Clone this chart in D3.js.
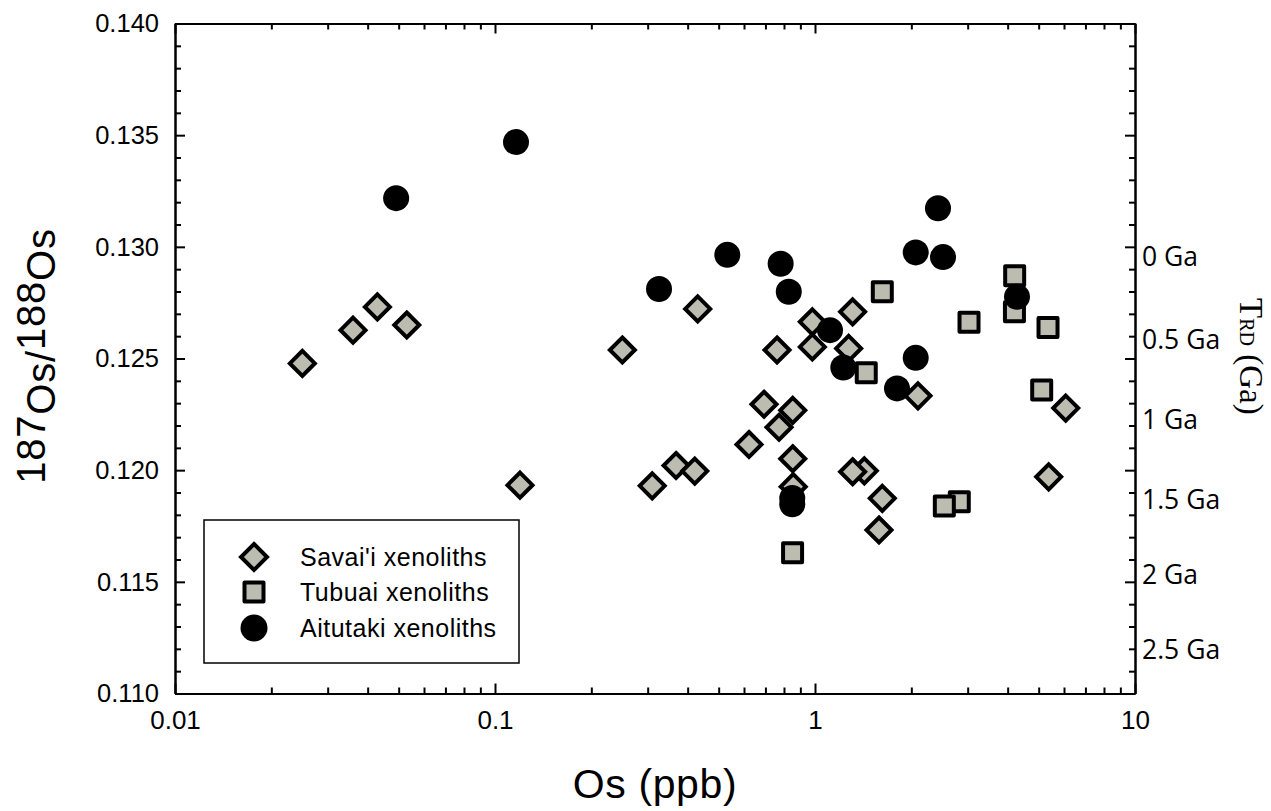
<!DOCTYPE html>
<html>
<head>
<meta charset="utf-8">
<script src="https://cdn.jsdelivr.net/npm/d3@7/dist/d3.min.js"></script>
<style>
  html, body { margin: 0; padding: 0; background: #fff; }
  svg { display: block; }
  .tick text { fill: #000; }
</style>
</head>
<body>
<svg id="chart" width="1271" height="811"></svg>
<script>
// Os concentration (ppb) and 187Os/188Os for each xenolith suite
const savaiiOs    = [0.025, 0.036, 0.0429, 0.053, 0.1197, 0.250, 0.430, 0.310, 0.368, 0.421,
                     0.622, 0.693, 0.852, 0.772, 0.852, 0.855, 0.761, 0.981, 0.981, 1.311,
                     1.274, 2.098, 6.074, 5.374, 1.426, 1.311, 1.623, 1.585];
const savaiiRatio = [0.12478, 0.12627, 0.12731, 0.12650, 0.11933, 0.12538, 0.12722, 0.11930, 0.12021, 0.11996,
                     0.12115, 0.12295, 0.12268, 0.12192, 0.12051, 0.11926, 0.12538, 0.12664, 0.12552, 0.12709,
                     0.12545, 0.12333, 0.12278, 0.11970, 0.11997, 0.11993, 0.11874, 0.11732];

const tubuaiOs    = [1.623, 4.207, 4.20, 3.029, 5.348, 1.446, 5.110, 2.824, 2.536, 0.851];
const tubuaiRatio = [0.12799, 0.12870, 0.12709, 0.12662, 0.12639, 0.12436, 0.12359, 0.11859, 0.11839, 0.11630];

const aitutakiOs    = [0.0491, 0.1163, 0.3255, 0.532, 0.781, 0.828, 1.114, 1.226, 2.064, 2.512,
                       2.064, 1.804, 2.423, 4.278, 0.849, 0.849];
const aitutakiRatio = [0.13218, 0.13469, 0.12811, 0.12964, 0.12924, 0.12799, 0.12627, 0.12460, 0.12975, 0.12954,
                       0.12503, 0.12366, 0.13173, 0.12776, 0.11875, 0.11847];

// Axis ticks
const xMajorTicks = [0.01, 0.1, 1, 10];
const xTickLabels = ["0.01", "0.1", "1", "10"];
const yMajorTicks = [0.110, 0.115, 0.120, 0.125, 0.130, 0.135, 0.140];
const yTickLabels = ["0.110", "0.115", "0.120", "0.125", "0.130", "0.135", "0.140"];

// Rhenium-depletion model ages and the 187Os/188Os they correspond to
const trdLabels = ["0 Ga", "0.5 Ga", "1 Ga", "1.5 Ga", "2 Ga", "2.5 Ga"];
const trdRatio  = [0.12955, 0.12587, 0.12229, 0.11871, 0.11535, 0.11199];

const seriesNames = ["Savai'i xenoliths", "Tubuai xenoliths", "Aitutaki xenoliths"];

// ---------------------------------------------------------------
const svg = d3.select("#chart");
const plotLeft = 175, plotRight = 1135, plotTop = 23.5, plotBottom = 693.5;
const grayFill = "#bcbdb0";
const sansFont = "'Liberation Sans', Arial, Helvetica, sans-serif";

const x = d3.scaleLog().domain([0.01, 10]).range([plotLeft, plotRight]);
const y = d3.scaleLinear().domain([0.110, 0.140]).range([plotBottom, plotTop]);

// minor tick values
const xMinor = [];
[0.01, 0.1, 1].forEach(d => { for (let k = 2; k <= 9; k++) xMinor.push(d * k); });
const yMinor = d3.range(110, 141).map(v => v / 1000).filter(v => !yMajorTicks.some(m => Math.abs(m - v) < 1e-9));

function styleAxis(g) {
  g.selectAll("path.domain").attr("stroke", "#000").attr("stroke-width", 2);
  g.selectAll(".tick line").attr("stroke", "#000").attr("stroke-width", 2);
}

// bottom axis
const gxB = svg.append("g").attr("transform", `translate(0,${plotBottom})`);
gxB.append("g").call(d3.axisBottom(x).tickValues(xMinor).tickFormat("").tickSize(-6).tickSizeOuter(0)).call(styleAxis);
gxB.append("g").call(d3.axisBottom(x).tickValues(xMajorTicks)
    .tickFormat((d, i) => xTickLabels[i]).tickSize(-10).tickSizeOuter(0).tickPadding(17))
  .call(styleAxis)
  .call(g => g.selectAll("text").attr("font-family", sansFont).attr("font-size", 26));

// top axis
const gxT = svg.append("g").attr("transform", `translate(0,${plotTop})`);
gxT.append("g").call(d3.axisTop(x).tickValues(xMinor).tickFormat("").tickSize(-6).tickSizeOuter(0)).call(styleAxis);
gxT.append("g").call(d3.axisTop(x).tickValues(xMajorTicks).tickFormat("").tickSize(-10).tickSizeOuter(0)).call(styleAxis);

// left axis
const gyL = svg.append("g").attr("transform", `translate(${plotLeft},0)`);
gyL.append("g").call(d3.axisLeft(y).tickValues(yMinor).tickFormat("").tickSize(-6).tickSizeOuter(0)).call(styleAxis);
gyL.append("g").call(d3.axisLeft(y).tickValues(yMajorTicks)
    .tickFormat((d, i) => yTickLabels[i]).tickSize(-10).tickSizeOuter(0).tickPadding(16))
  .call(styleAxis)
  .call(g => g.selectAll("text").attr("font-family", sansFont).attr("font-size", 25.5));

// right axis (model ages)
const gyR = svg.append("g").attr("transform", `translate(${plotRight},0)`);
gyR.append("g").call(d3.axisRight(y).tickValues(yMinor).tickFormat("").tickSize(-6).tickSizeOuter(0)).call(styleAxis);
gyR.append("g").call(d3.axisRight(y).tickValues(yMajorTicks).tickFormat("").tickSize(-10).tickSizeOuter(0)).call(styleAxis);

svg.append("g").selectAll("text").data(trdLabels).join("text")
  .attr("x", plotRight + 7)
  .attr("y", (d, i) => y(trdRatio[i]))
  .attr("dy", "0.36em")
  .attr("font-family", "'Open Sans', 'Noto Sans', sans-serif")
  .attr("font-size", 26.5)
  .attr("fill", "#000")
  .text(d => d);

// axis titles
svg.append("text")
  .attr("x", 655).attr("y", 798)
  .attr("text-anchor", "middle")
  .attr("font-family", sansFont).attr("font-size", 41)
  .attr("letter-spacing", 0.6)
  .attr("fill", "#000")
  .text("Os (ppb)");

const yTitle = svg.append("text")
  .attr("transform", "translate(45,356) rotate(-90)")
  .attr("text-anchor", "middle")
  .attr("font-family", sansFont).attr("font-size", 40)
  .attr("letter-spacing", 0.8)
  .attr("fill", "#000");
yTitle.append("tspan").text("187");
yTitle.append("tspan").attr("dy", 10).text("Os/");
yTitle.append("tspan").attr("dy", -10).text("188");
yTitle.append("tspan").attr("dy", 10).text("Os");

const trdTitle = svg.append("text")
  .attr("transform", "translate(1240,298) rotate(90)")
  .attr("font-family", "'Liberation Serif', 'Times New Roman', serif")
  .attr("font-size", 33)
  .attr("fill", "#000");
trdTitle.append("tspan").text("T");
trdTitle.append("tspan").attr("font-size", 20).text("RD");
trdTitle.append("tspan").text(" (Ga)");

// marker shapes
const diamond = s => `M0,${-s}L${s},0L0,${s}L${-s},0Z`;
const square = s => `M${-s},${-s}H${s}V${s}H${-s}Z`;

const plot = svg.append("g");

plot.append("g").selectAll("path").data(d3.zip(savaiiOs, savaiiRatio)).join("path")
  .attr("transform", d => `translate(${x(d[0])},${y(d[1])})`)
  .attr("d", diamond(12.5))
  .attr("fill", grayFill).attr("stroke", "#000").attr("stroke-width", 4).attr("stroke-linejoin", "miter");

plot.append("g").selectAll("path").data(d3.zip(tubuaiOs, tubuaiRatio)).join("path")
  .attr("transform", d => `translate(${x(d[0])},${y(d[1])})`)
  .attr("d", square(9.5))
  .attr("fill", grayFill).attr("stroke", "#000").attr("stroke-width", 4).attr("stroke-linejoin", "round");

plot.append("g").selectAll("circle").data(d3.zip(aitutakiOs, aitutakiRatio)).join("circle")
  .attr("cx", d => x(d[0])).attr("cy", d => y(d[1]))
  .attr("r", 13)
  .attr("fill", "#000");

// legend
const legend = svg.append("g");
legend.append("rect")
  .attr("x", 204).attr("y", 520).attr("width", 315).attr("height", 143)
  .attr("fill", "#fff").attr("stroke", "#000").attr("stroke-width", 1.5);

const legendRowsY = [557, 592, 628];
legend.append("path").attr("transform", `translate(254,${legendRowsY[0]})`)
  .attr("d", diamond(13)).attr("fill", grayFill).attr("stroke", "#000").attr("stroke-width", 4);
legend.append("path").attr("transform", `translate(254,${legendRowsY[1]})`)
  .attr("d", square(9.5)).attr("fill", grayFill).attr("stroke", "#000").attr("stroke-width", 4).attr("stroke-linejoin", "round");
legend.append("circle").attr("cx", 254).attr("cy", legendRowsY[2]).attr("r", 13.5).attr("fill", "#000");

legend.selectAll("text.lbl").data(seriesNames).join("text")
  .attr("class", "lbl")
  .attr("x", 300)
  .attr("y", (d, i) => legendRowsY[i] + 8.5)
  .attr("font-family", sansFont).attr("font-size", 25)
  .attr("letter-spacing", 0.5)
  .attr("fill", "#000")
  .text(d => d);
</script>
</body>
</html>
